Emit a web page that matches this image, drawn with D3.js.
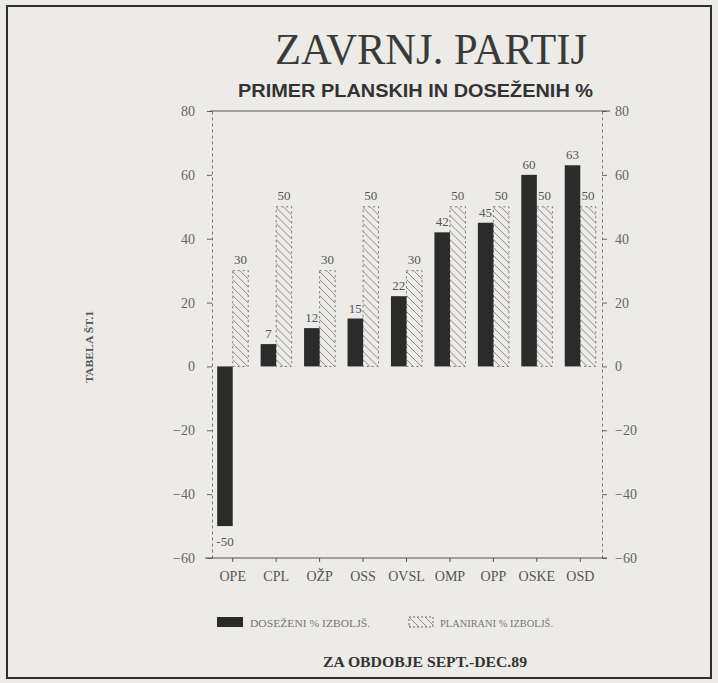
<!DOCTYPE html>
<html>
<head>
<meta charset="utf-8">
<script src="https://cdn.jsdelivr.net/npm/d3@7"></script>
<style>
body { margin: 0; background: #ecebe7; }
svg { display: block; }
</style>
</head>
<body>
<svg id="chart"></svg>
<script>
// values
let categories = ["OPE", "CPL", "OŽP", "OSS", "OVSL", "OMP", "OPP", "OSKE", "OSD"];
let achieved = [-50, 7, 12, 15, 22, 42, 45, 60, 63];
let planned = [30, 50, 30, 50, 30, 50, 50, 50, 50];
let yTicks = [80, 60, 40, 20, 0, -20, -40, -60];
let seriesKeys = ["achieved", "planned"];
let legendLabels = ["DOSEŽENI % IZBOLJŠ.", "PLANIRANI % IZBOLJŠ."];

let width = 718, height = 683;
let plot = { left: 211, right: 602, top: 111, bottom: 558 };
let serif = "'Liberation Serif', 'DejaVu Serif', serif";
let sans = "'Liberation Sans', Arial, sans-serif";

let rows = categories.map((c, i) => ({ cat: c, achieved: achieved[i], planned: planned[i] }));

let svg = d3.select("#chart").attr("width", width).attr("height", height);

// hatch pattern for planned bars
let defs = svg.append("defs");
let hatch = defs.append("pattern")
    .attr("id", "hatch")
    .attr("patternUnits", "userSpaceOnUse")
    .attr("width", 8).attr("height", 8);
hatch.append("path")
    .attr("d", "M-2,6 L2,10 M0,0 L8,8 M6,-2 L10,2")
    .attr("stroke", "#8c8c8c").attr("stroke-width", 1);

// frame of the scanned page
svg.append("rect")
    .attr("x", 7).attr("y", 6).attr("width", 704).attr("height", 672)
    .attr("fill", "none").attr("stroke", "#2e2e2e").attr("stroke-width", 2);

// titles
svg.append("text")
    .attr("x", 275).attr("y", 64)
    .attr("textLength", 312).attr("lengthAdjust", "spacingAndGlyphs")
    .style("font-family", serif).style("font-size", "44px")
    .style("fill", "#3a3a3a")
    .text("ZAVRNJ. PARTIJ");
svg.append("text")
    .attr("x", 238).attr("y", 97)
    .attr("textLength", 355).attr("lengthAdjust", "spacingAndGlyphs")
    .style("font-family", sans).style("font-size", "18px").style("font-weight", "bold")
    .style("fill", "#333")
    .text("PRIMER PLANSKIH IN DOSEŽENIH %");

// scales
let x = d3.scaleBand().domain(categories)
    .range([plot.left, plot.right])
    .paddingInner(0.285).paddingOuter(0.1425);
let x1 = d3.scaleBand().domain(seriesKeys).range([0, x.bandwidth()]);
let y = d3.scaleLinear().domain([-60, 80]).range([plot.bottom, plot.top]);

let tickStyle = g => {
    g.selectAll("text").style("font-family", serif).style("font-size", "14px").style("fill", "#666");
    g.selectAll(".tick line").attr("stroke", "#666");
    g.select(".domain").attr("stroke", "#777").attr("stroke-dasharray", "3,3");
};

// left / right axes (dashed)
svg.append("g")
    .attr("transform", `translate(212,0)`)
    .call(d3.axisLeft(y).tickValues(yTicks).tickSize(5).tickSizeOuter(0).tickPadding(12))
    .call(tickStyle);
svg.append("g")
    .attr("transform", `translate(602,0)`)
    .call(d3.axisRight(y).tickValues(yTicks).tickSize(5).tickSizeOuter(0).tickPadding(8))
    .call(tickStyle);

// top and bottom solid lines
svg.append("line")
    .attr("x1", 210).attr("x2", 610).attr("y1", y(80)).attr("y2", y(80))
    .attr("stroke", "#555").attr("stroke-width", 1.2);
let xAxis = svg.append("g")
    .attr("transform", `translate(0,${plot.bottom})`)
    .call(d3.axisBottom(x).tickSize(4).tickPadding(9).tickSizeOuter(0));
xAxis.select(".domain").remove();
xAxis.selectAll(".tick").attr("transform", d => `translate(${x(d) + x1.bandwidth()},0)`);
xAxis.selectAll(".tick line").attr("stroke", "#555");
xAxis.selectAll("text").style("font-family", serif).style("font-size", "14px").style("fill", "#555");
svg.append("line")
    .attr("x1", 205).attr("x2", 607).attr("y1", plot.bottom).attr("y2", plot.bottom)
    .attr("stroke", "#555").attr("stroke-width", 1.2);

// bars
let groups = svg.append("g").selectAll("g")
    .data(rows)
    .enter().append("g")
    .attr("transform", d => `translate(${x(d.cat)},0)`);

groups.append("rect")
    .attr("x", x1("planned"))
    .attr("width", x1.bandwidth())
    .attr("y", d => y(Math.max(0, d.planned)))
    .attr("height", d => Math.abs(y(d.planned) - y(0)))
    .attr("fill", "url(#hatch)")
    .attr("stroke", "#777").attr("stroke-dasharray", "2,3");

groups.append("rect")
    .attr("x", x1("achieved"))
    .attr("width", x1.bandwidth())
    .attr("y", d => y(Math.max(0, d.achieved)))
    .attr("height", d => Math.abs(y(d.achieved) - y(0)))
    .attr("fill", "#2b2b2b");

// value labels
let labelStyle = sel => sel.attr("text-anchor", "middle")
    .style("font-family", serif).style("font-size", "13px").style("fill", "#555");

groups.append("text")
    .attr("x", x1("planned") + x1.bandwidth() / 2)
    .attr("y", d => y(d.planned) - 7)
    .call(labelStyle)
    .text(d => d.planned);

groups.append("text")
    .attr("x", x1("achieved") + x1.bandwidth() / 2)
    .attr("y", d => d.achieved < 0 ? y(d.achieved) + 20 : y(d.achieved) - 6)
    .call(labelStyle)
    .text(d => d.achieved);

// side label
svg.append("text")
    .attr("transform", "translate(93,347) rotate(-90)")
    .attr("text-anchor", "middle")
    .attr("textLength", 72).attr("lengthAdjust", "spacingAndGlyphs")
    .style("font-family", serif).style("font-size", "11px").style("font-weight", "bold")
    .style("fill", "#555")
    .text("TABELA ŠT.1");

// legend
let legend = svg.append("g");
legend.append("rect")
    .attr("x", 217).attr("y", 617).attr("width", 26).attr("height", 10)
    .attr("fill", "#2b2b2b");
legend.append("text")
    .attr("x", 250).attr("y", 627)
    .attr("textLength", 120).attr("lengthAdjust", "spacingAndGlyphs")
    .style("font-family", serif).style("font-size", "11px").style("fill", "#777")
    .text(legendLabels[0]);
legend.append("rect")
    .attr("x", 409).attr("y", 617).attr("width", 24).attr("height", 10)
    .attr("fill", "url(#hatch)")
    .attr("stroke", "#666").attr("stroke-dasharray", "2,2");
legend.append("text")
    .attr("x", 440).attr("y", 627)
    .attr("textLength", 113).attr("lengthAdjust", "spacingAndGlyphs")
    .style("font-family", serif).style("font-size", "11px").style("fill", "#777")
    .text(legendLabels[1]);

svg.append("text")
    .attr("x", 323).attr("y", 667)
    .attr("textLength", 204).attr("lengthAdjust", "spacingAndGlyphs")
    .style("font-family", serif).style("font-size", "14px").style("font-weight", "bold")
    .style("fill", "#333")
    .text("ZA OBDOBJE SEPT.-DEC.89");
</script>
</body>
</html>
